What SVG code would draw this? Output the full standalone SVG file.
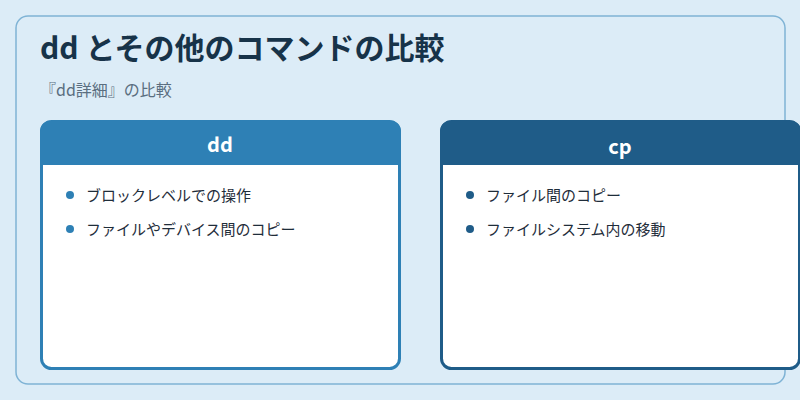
<svg xmlns="http://www.w3.org/2000/svg" width="800" height="400" viewBox="0 0 800 400">
<style>
text{font-family:"Noto Sans CJK JP","Noto Sans",sans-serif}
.item{font-size:15px;fill:#1f2d3a}
.hd{font-size:20px;font-weight:bold;fill:#ffffff;text-anchor:middle}
</style>
<rect width="800" height="400" fill="#dcecf7"/>
<rect x="16" y="16" width="769" height="368" rx="12" fill="#dcecf7" stroke="#7fb3d5" stroke-width="1.5"/>
<text x="40" y="59" font-size="30" font-weight="bold" fill="#173349">dd とその他のコマンドの比較</text>
<text x="40" y="96" font-size="16" fill="#5a6e80">『dd詳細』の比較</text>
<g id="dd">
<rect x="41.5" y="121.5" width="358" height="247" rx="10" fill="#ffffff" stroke="#2e80b5" stroke-width="3"/>
<path d="M40 165 V131 a10 10 0 0 1 10 -10 H391 a10 10 0 0 1 10 10 V165 Z" fill="#2e80b5"/>
<text class="hd" x="220" y="152">dd</text>
<circle cx="70" cy="195" r="4" fill="#2e80b5"/>
<text class="item" x="86" y="201">ブロックレベルでの操作</text>
<circle cx="70" cy="229" r="4" fill="#2e80b5"/>
<text class="item" x="86" y="235">ファイルやデバイス間のコピー</text>
</g>
<g id="cp">
<rect x="441.5" y="121.5" width="358" height="247" rx="10" fill="#ffffff" stroke="#1f5c88" stroke-width="3"/>
<path d="M440 165 V131 a10 10 0 0 1 10 -10 H791 a10 10 0 0 1 10 10 V165 Z" fill="#1f5c88"/>
<text class="hd" x="620" y="154">cp</text>
<circle cx="470" cy="195" r="4" fill="#1f5c88"/>
<text class="item" x="486" y="201">ファイル間のコピー</text>
<circle cx="470" cy="229" r="4" fill="#1f5c88"/>
<text class="item" x="486" y="235">ファイルシステム内の移動</text>
</g>
<g id="connectors"/>
</svg>
